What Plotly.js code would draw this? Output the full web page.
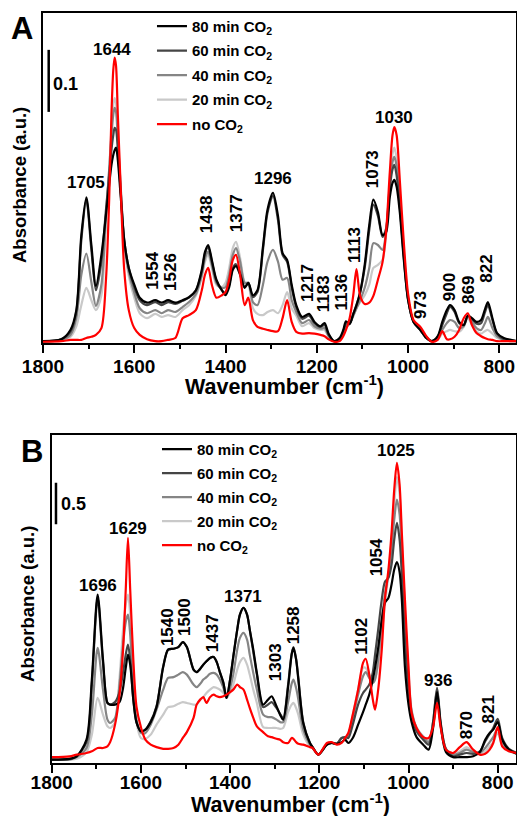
<!DOCTYPE html>
<html><head><meta charset="utf-8">
<script src="https://cdn.plot.ly/plotly-3.0.1.min.js"></script>
<style>html,body{margin:0;padding:0;background:#fff}#chart{width:517px;height:816px}</style>
</head><body><div id="chart"></div>
<script>
// ---------- series definitions ----------
const seriesNames = ['80 min CO<sub>2</sub>', '60 min CO<sub>2</sub>', '40 min CO<sub>2</sub>', '20 min CO<sub>2</sub>', 'no CO<sub>2</sub>'];
const seriesColors = ['#000000', '#454545', '#858585', '#c9c9c9', '#ff0000'];

// ---------- Panel A data (wavenumber, absorbance) ----------
const wnA = [1800,1760,1740,1727,1716,1705,1694,1684,1672,1662,
  1655,1650,1646,1643,1640,1636,1630,1622,1612,1600,
  1588,1572,1554,1540,1526,1510,1494,1480,1465,1452,
  1445,1438,1430,1420,1408,1400,1392,1384,1377,1368,
  1358,1350,1340,1330,1318,1308,1296,1285,1275,1265,
  1255,1245,1232,1217,1205,1192,1183,1174,1162,1150,
  1142,1136,1128,1120,1113,1105,1095,1085,1076,1066,
  1056,1048,1040,1034,1030,1025,1018,1010,1000,988,
  973,960,948,935,925,915,908,898,888,878,
  869,860,850,840,832,825,815,805,790,775,
  762];
const absA80 = [.003,.006,.021,.053,.174,.235,.158,.092,.142,.206,
  .255,.287,.303,.311,.315,.295,.239,.166,.121,.094,
  .073,.065,.069,.065,.069,.065,.069,.074,.085,.118,
  .147,.158,.134,.102,.085,.077,.090,.118,.124,.110,
  .089,.097,.077,.085,.155,.215,.242,.205,.145,.134,
  .094,.061,.042,.047,.034,.027,.032,.015,.003,.008,
  .021,.035,.031,.047,.061,.082,.126,.190,.231,.211,
  .174,.179,.235,.258,.263,.252,.210,.140,.070,.034,
  .021,.008,.003,.011,.034,.053,.061,.053,.034,.029,
  .044,.040,.034,.037,.053,.066,.040,.016,.008,.005,
  .003];
const absA60 = [.003,.006,.018,.050,.166,.231,.150,.085,.131,.215,
  .271,.311,.335,.347,.344,.311,.247,.166,.121,.090,
  .069,.061,.066,.061,.066,.063,.068,.073,.084,.115,
  .144,.155,.131,.100,.085,.081,.094,.121,.127,.113,
  .090,.097,.074,.082,.150,.210,.237,.198,.142,.131,
  .090,.058,.039,.044,.032,.026,.029,.013,.003,.006,
  .018,.031,.031,.047,.061,.081,.121,.182,.223,.205,
  .171,.185,.250,.280,.287,.270,.220,.145,.070,.034,
  .021,.008,.003,.010,.029,.048,.058,.050,.032,.029,
  .044,.039,.031,.032,.048,.061,.037,.015,.006,.005,
  .003];
const absA40 = [.002,.005,.013,.040,.110,.144,.098,.060,.094,.206,
  .279,.335,.368,.379,.373,.327,.255,.163,.115,.081,
  .056,.048,.053,.048,.053,.050,.058,.066,.079,.110,
  .137,.147,.126,.097,.089,.090,.110,.142,.153,.131,
  .097,.097,.066,.061,.094,.131,.150,.131,.102,.105,
  .069,.050,.032,.037,.027,.023,.024,.011,.003,.006,
  .015,.026,.031,.044,.056,.069,.089,.121,.161,.158,
  .150,.180,.255,.292,.300,.285,.230,.150,.072,.035,
  .023,.010,.003,.008,.021,.032,.037,.034,.024,.027,
  .044,.034,.024,.021,.031,.042,.024,.011,.005,.003,
  .003];
const absA20 = [.002,.005,.010,.027,.061,.089,.069,.053,.077,.198,
  .279,.344,.384,.395,.387,.335,.255,.158,.108,.073,
  .048,.040,.047,.042,.045,.042,.053,.061,.076,.106,
  .131,.142,.121,.094,.090,.097,.121,.153,.163,.137,
  .098,.094,.056,.047,.045,.050,.053,.048,.061,.082,
  .056,.044,.027,.032,.024,.021,.021,.010,.003,.006,
  .013,.024,.031,.044,.056,.066,.077,.094,.121,.126,
  .134,.175,.260,.305,.315,.298,.240,.155,.072,.035,
  .023,.010,.003,.006,.015,.019,.021,.019,.018,.026,
  .040,.029,.019,.015,.019,.021,.015,.008,.005,.003,
  .003];
const absA0 = [.002,.003,.005,.005,.005,.008,.010,.013,.024,.102,
  .231,.368,.440,.460,.447,.368,.255,.118,.053,.024,
  .013,.006,.003,.003,.005,.008,.040,.045,.053,.085,
  .110,.121,.094,.073,.077,.082,.102,.134,.142,.110,
  .061,.073,.037,.026,.023,.021,.019,.019,.040,.069,
  .034,.018,.015,.016,.015,.013,.011,.006,.002,.003,
  .011,.021,.040,.077,.119,.076,.063,.065,.076,.102,
  .130,.180,.275,.335,.348,.335,.262,.170,.080,.037,
  .026,.011,.002,.005,.019,.006,.006,.010,.021,.040,
  .048,.029,.016,.011,.008,.006,.005,.003,.003,.003,
  .003];

// ---------- Panel B data ----------
const wnB = [1800,1760,1744,1722,1710,1697,1685,1675,1669,1658,
  1648,1640,1634,1629,1624,1617,1610,1600,1590,1578,
  1565,1550,1539,1527,1516,1506,1497,1482,1475,1467,
  1460,1453,1445,1437,1430,1423,1415,1408,1400,1393,
  1384,1378,1370,1362,1356,1348,1340,1326,1315,1307,
  1296,1288,1281,1270,1262,1258,1252,1247,1236,1221,
  1215,1202,1183,1172,1161,1150,1142,1135,1125,1113,
  1102,1096,1088,1080,1075,1068,1060,1053,1045,1038,
  1032,1026,1020,1015,1008,1000,993,982,967,955,
  945,936,928,916,900,885,870,855,840,828,
  818,810,800,790,775,757];
const absB80 = [.04,.05,.08,.28,1.00,2.02,1.24,.72,.70,.70,
  .73,.90,1.14,1.30,1.18,.76,.49,.38,.40,.49,
  .67,1.15,1.36,1.37,1.39,1.45,1.39,1.12,1.09,1.13,
  1.18,1.22,1.26,1.27,1.21,1.09,.96,.78,1.00,1.27,
  1.60,1.78,1.86,1.78,1.60,1.36,1.08,.70,.76,.80,
  .68,.58,.52,.91,1.30,1.38,1.24,1.00,.48,.24,
  .19,.10,.22,.24,.23,.25,.28,.24,.30,.46,
  .61,.70,.82,1.00,1.14,1.38,1.72,1.92,1.98,2.14,
  2.32,2.41,2.29,1.96,1.15,.70,.49,.31,.22,.16,
  .42,.85,.46,.13,.07,.07,.07,.08,.13,.28,
  .36,.40,.49,.28,.16,.11];
const absB60 = [.04,.05,.08,.25,.94,1.98,1.20,.72,.70,.73,
  .85,1.09,1.30,1.42,1.24,.76,.49,.38,.40,.50,
  .68,1.16,1.36,1.37,1.39,1.45,1.39,1.12,1.09,1.13,
  1.18,1.22,1.26,1.27,1.21,1.09,.96,.78,1.00,1.27,
  1.60,1.78,1.86,1.78,1.60,1.33,1.06,.67,.70,.73,
  .66,.59,.54,.94,1.31,1.39,1.25,1.02,.49,.24,
  .19,.10,.22,.24,.23,.30,.31,.30,.46,.70,
  .84,.88,.94,1.09,1.30,1.60,1.96,2.17,2.22,2.38,
  2.68,2.88,2.68,2.26,1.48,.88,.58,.38,.28,.22,
  .49,.90,.49,.16,.08,.10,.12,.11,.14,.26,
  .35,.42,.53,.30,.17,.12];
const absB40 = [.04,.04,.07,.18,.58,1.38,.88,.52,.48,.54,
  .94,1.42,1.69,1.78,1.54,.90,.52,.36,.36,.46,
  .64,.88,1.02,1.03,1.06,1.09,1.06,.94,.91,.95,
  1.00,1.03,1.07,1.08,1.06,1.00,.90,.78,.90,1.06,
  1.36,1.50,1.56,1.48,1.30,1.08,.88,.58,.55,.55,
  .52,.49,.49,.73,.95,1.00,.90,.76,.40,.22,
  .18,.10,.22,.24,.23,.30,.30,.34,.54,.82,
  1.04,1.09,1.02,.96,1.00,1.24,1.69,2.02,2.26,2.58,
  2.92,3.16,2.98,2.50,1.72,1.00,.62,.42,.31,.25,
  .49,.88,.48,.17,.10,.12,.16,.13,.12,.18,
  .25,.31,.42,.25,.16,.12];
const absB20 = [.04,.04,.05,.13,.34,.78,.58,.44,.42,.49,
  1.02,1.60,1.90,2.02,1.78,.94,.49,.30,.29,.34,
  .46,.58,.67,.68,.71,.73,.72,.70,.70,.76,
  .79,.84,.88,.91,.90,.88,.84,.78,.85,.94,
  1.12,1.21,1.26,1.18,1.06,.88,.72,.43,.42,.42,
  .42,.41,.42,.61,.70,.72,.66,.58,.34,.20,
  .18,.10,.22,.24,.23,.30,.30,.34,.58,.88,
  1.14,1.14,1.06,1.00,1.02,1.18,1.54,1.90,2.26,2.68,
  3.10,3.43,3.22,2.68,1.84,1.09,.64,.43,.32,.26,
  .46,.82,.44,.17,.11,.14,.19,.14,.11,.14,
  .20,.25,.36,.22,.14,.12];
const absB0 = [.07,.08,.10,.12,.14,.18,.18,.20,.25,.46,
  .82,1.36,2.08,2.70,2.08,1.24,.68,.43,.28,.22,
  .19,.17,.17,.18,.22,.30,.37,.54,.70,.76,
  .79,.72,.79,.82,.80,.79,.80,.82,.85,.88,
  .94,.91,.88,.76,.66,.54,.44,.37,.32,.31,
  .29,.28,.25,.24,.30,.29,.25,.23,.22,.19,
  .18,.10,.24,.25,.22,.24,.30,.36,.58,.88,
  1.20,1.25,1.06,.76,.64,.88,1.36,1.96,2.32,2.76,
  3.28,3.60,3.34,2.76,1.96,1.15,.60,.42,.31,.30,
  .43,.72,.43,.16,.12,.19,.25,.16,.10,.11,
  .16,.24,.43,.20,.14,.12];

// ---------- peak labels (text) ----------
const peakTextA = ['1705','1644','1554','1526','1438','1377','1296','1217','1183','1136','1113','1073','1030','973','900','869','822'];
const peakTextB = ['1696','1629','1540','1500','1437','1371','1303','1258','1102','1054','1025','936','870','821'];
const scaleValA = 0.1, scaleValB = 0.5;
const xTitleText = 'Wavenumber (cm<sup>-1</sup>)';
const yTitleText = 'Absorbance (a.u.)';
const panelLetters = ['A', 'B'];

// ---------- layout positions (not data) ----------
const peakPosA = [[1706,0.258,0],[1649,0.473,0],[1562,0.116,1],[1521,0.115,1],[1440,0.208,1],[1376,0.210,1],
  [1296,0.266,0],[1219,0.097,1],[1186,0.079,1],[1146,0.082,1],[1116,0.158,1],[1078,0.281,1],[1031,0.364,0],
  [974,0.061,1],[910,0.090,1],[868,0.086,1],[828,0.119,1]];
const peakPosB = [[1696,2.134,0],[1628,2.814,0],[1539,1.631,1],[1501,1.751,1],[1438,1.559,1],[1370,2.002,0],
  [1299,1.211,1],[1256,1.655,1],[1105,1.523,1],[1071,2.464,1],[1027,3.745,0],[933,0.995,0],[868,0.456,1],[821,0.647,1]];

const FONT = 'Liberation Sans, Arial, Helvetica, sans-serif';
const traces = [];
const drawOrder = [3,2,1,0,4];
const dataA = [absA80, absA60, absA40, absA20, absA0];
const dataB = [absB80, absB60, absB40, absB20, absB0];
drawOrder.forEach(i => {
  traces.push({x: wnA, y: dataA[i], type:'scatter', mode:'lines', name: seriesNames[i],
    line:{color: seriesColors[i], width: 2.2, shape:'spline', smoothing:0.8},
    xaxis:'x', yaxis:'y', legend:'legend', legendgroup:'a'+i, legendrank: i+1});
});
drawOrder.forEach(i => {
  traces.push({x: wnB, y: dataB[i], type:'scatter', mode:'lines', name: seriesNames[i],
    line:{color: seriesColors[i], width: 2.2, shape:'spline', smoothing:0.8},
    xaxis:'x2', yaxis:'y2', legend:'legend2', legendgroup:'b'+i, legendrank: i+1});
});

const bold = (size) => ({family:FONT, size:size, weight:'bold', color:'#000'});
const annotations = [];
peakTextA.forEach((t,k) => annotations.push({xref:'x', yref:'y', x: peakPosA[k][0], y: peakPosA[k][1], text: t,
  showarrow:false, textangle: peakPosA[k][2] ? -90 : 0, font: bold(17)}));
peakTextB.forEach((t,k) => annotations.push({xref:'x2', yref:'y2', x: peakPosB[k][0], y: peakPosB[k][1], text: t,
  showarrow:false, textangle: peakPosB[k][2] ? -90 : 0, font: bold(17)}));
annotations.push({xref:'x', yref:'y', x:1750, y:0.418, text:String(scaleValA), showarrow:false, font: bold(18)});
annotations.push({xref:'x2', yref:'y2', x:1751, y:3.10, text:String(scaleValB), showarrow:false, font: bold(18)});
// panel letters
annotations.push({xref:'paper', yref:'paper', x:-0.0444, y:0.9787, xanchor:'center', yanchor:'middle', text:panelLetters[0], showarrow:false, font: bold(31)});
annotations.push({xref:'paper', yref:'paper', x:-0.0243, y:0.416, xanchor:'center', yanchor:'middle', text:panelLetters[1], showarrow:false, font: bold(31)});
// axis titles
annotations.push({xref:'paper', yref:'paper', x:0.5116, y:0.504, xanchor:'center', yanchor:'middle', text:xTitleText, showarrow:false, font: bold(21.5)});
annotations.push({xref:'paper', yref:'paper', x:0.5243, y:-0.053, xanchor:'center', yanchor:'middle', text:xTitleText, showarrow:false, font: bold(21.5)});
annotations.push({xref:'paper', yref:'paper', x:-0.0486, y:0.7707, xanchor:'center', yanchor:'middle', textangle:-90, text:yTitleText, showarrow:false, font: bold(18.5)});
annotations.push({xref:'paper', yref:'paper', x:-0.0328, y:0.2127, xanchor:'center', yanchor:'middle', textangle:-90, text:yTitleText, showarrow:false, font: bold(18.5)});

const shapes = [
  {type:'line', xref:'x', yref:'y', x0:1787.5, x1:1787.5, y0:0.3726, y1:0.3726+scaleValA, line:{color:'#000', width:2.5}},
  {type:'line', xref:'x2', yref:'y2', x0:1790.4, x1:1790.4, y0:2.862, y1:2.862+scaleValB, line:{color:'#000', width:2.5}}
];

const xCommon = {showline:true, mirror:true, linewidth:2, linecolor:'#000', showgrid:false, zeroline:false,
  ticks:'outside', ticklen:8, tickwidth:2, tickcolor:'#000', dtick:200, tick0:0,
  minor:{ticks:'outside', dtick:100, ticklen:4, tickwidth:2, tickcolor:'#000'},
  tickfont: bold(19)};
const yCommon = {showline:true, mirror:true, linewidth:2, linecolor:'#000', showgrid:false, zeroline:false,
  ticks:'', showticklabels:false};

const legendCommon = {xanchor:'left', yanchor:'top', bgcolor:'rgba(0,0,0,0)', borderwidth:0,
  font: bold(15), traceorder:'grouped', itemwidth:30};

const layout = {
  width:517, height:816, paper_bgcolor:'#fff', plot_bgcolor:'#fff',
  margin:{l:43, r:1, t:13, b:53},
  showlegend:true,
  xaxis: Object.assign({}, xCommon, {domain:[0,1], range:[1800,763.4], anchor:'y', ticklabelstandoff:-3}),
  yaxis: Object.assign({}, yCommon, {domain:[0.56,1], range:[0,0.532], anchor:'x'}),
  xaxis2: Object.assign({}, xCommon, {domain:[0.0184,1], range:[1800,759], anchor:'y2', ticklabelstandoff:-7}),
  yaxis2: Object.assign({}, yCommon, {domain:[0,0.4373], range:[0,3.933], anchor:'x2'}),
  legend: Object.assign({}, legendCommon, {x:0.2304, y:1.0043, tracegroupgap:2}),
  legend2: Object.assign({}, legendCommon, {x:0.241, y:0.4403, tracegroupgap:1.5}),
  annotations: annotations,
  shapes: shapes
};
Plotly.newPlot('chart', traces, layout, {staticPlot:true, displayModeBar:false});
</script>
</body></html>
